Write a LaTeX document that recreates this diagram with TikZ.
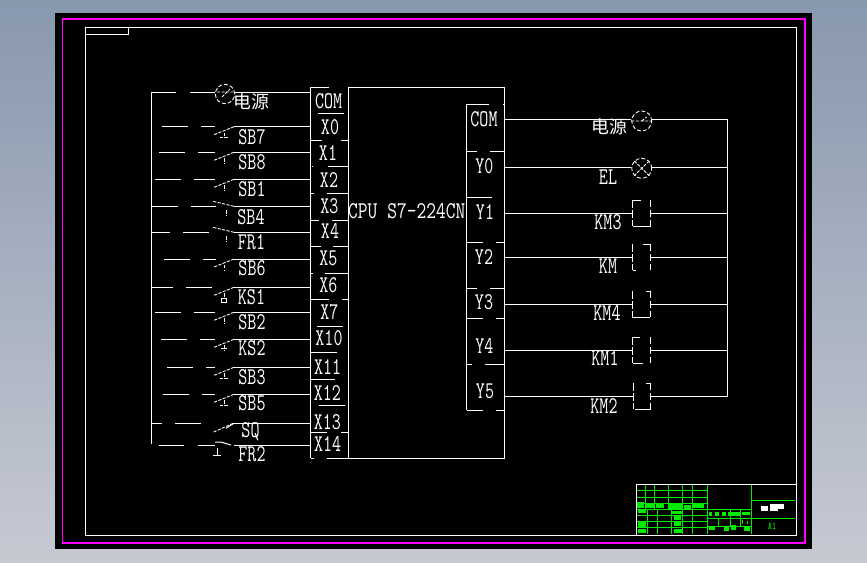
\documentclass[tikz,border=0pt]{standalone}
\usepackage{fontspec}
\usetikzlibrary{calc}
\newfontfamily\cadfont[FakeStretch=0.73]{Latin Modern Mono}
\newfontfamily\cadwide[FakeStretch=0.79]{Latin Modern Mono}
\newfontfamily\cadcjk{Noto Sans CJK SC}
\definecolor{tbgreen}{RGB}{0,235,0}
\definecolor{framepink}{RGB}{255,0,255}
\tikzset{
  wire/.style={draw=white,line width=0.75pt},
  sketchy/.style={draw=white,line width=0.65pt,dash pattern=on 2.4pt off 1pt},
  lampring/.style={draw=white,line width=0.65pt,circle,inner sep=0pt,dash pattern=on 3pt off 1.5pt},
  pinlabel/.style={text=white,inner sep=0pt,font=\cadfont\fontsize{18}{18}\selectfont},
  cpulabel/.style={text=white,inner sep=0pt,font=\cadwide\fontsize{18}{18}\selectfont},
  cjklabel/.style={text=white,inner sep=0pt,font=\cadcjk\fontsize{13.4}{14}\selectfont},
  tbline/.style={draw=tbgreen,line width=0.6pt},
}
\begin{document}
\begin{tikzpicture}[x=0.75pt,y=0.75pt,yscale=-1,xscale=1]
\useasboundingbox (0,0) rectangle (867,562);

%Screen and sheet
\shade[top color={rgb,255:red,136;green,152;blue,174},bottom color={rgb,255:red,198;green,201;blue,210}] (0,0) rectangle (867,562);
\fill[black] (55,13) rectangle (812,549);
\draw[framepink,line width=1pt] (62.5,19) rectangle (805,543);
\draw[wire] (85,27) rectangle (796,535);
\draw[wire] (85,34) -- (128,34) -- (128,27);

%Title block
\begin{scope}[shift={(630,478)},x=0.25pt,y=0.25pt]
\foreach \v in {38,57,75,94,112,130,148} {\draw[tbline] (18,\v) -- (233,\v);}
\foreach \u in {46,72,115,157,187} {\draw[tbline] (\u,18) -- (\u,94);}
\foreach \u in {52,82,125,157,187} {\draw[tbline] (\u,94) -- (\u,168);}
\draw[tbline] (233,18) -- (233,168);
\draw[tbline] (365,18) -- (365,168);
\foreach \v in {94,122,145} {\draw[tbline] (233,\v) -- (365,\v);}
\foreach \u in {265,300,332} {\draw[tbline] (\u,122) -- (\u,145);}
\foreach \u in {300,332} {\draw[tbline] (\u,94) -- (\u,122);}
\draw[tbline] (365,67) -- (495,67);
\draw[tbline] (365,122) -- (495,122);
\foreach \a/\b/\c/\d in {20/42/72/90,48/72/78/90,78/102/78/90,115/155/78/92,162/182/82/92,190/222/78/90,
  25/47/96/106,125/157/98/108,132/154/112/126,25/47/132/146,132/154/132/144,25/47/153/165,132/156/152/164,
  237/247/102/114,255/267/102/114,277/287/102/114,295/330/102/114,337/360/102/112,
  335/340/126/137,350/355/128/137,237/255/144/156,282/298/144/158,302/318/142/155,342/360/144/158}
  {\fill[tbgreen] (\a,\c) rectangle (\b,\d);}
\foreach \a/\b/\c/\d in {393/415/85/98,420/445/78/98,445/462/78/92} {\fill[white] (\a,\c) rectangle (\b,\d);}
\node[text=tbgreen,inner sep=0pt,font=\cadfont\fontsize{8}{8}\selectfont] (sheetsize) at (426,145) {A1};
\end{scope}
\draw[wire] (636,535) -- (636,484) -- (796,484);

%Terminal blocks
\draw[wire] (310.7,87.3) -- (310.7,458.3);
\draw[wire] (348.3,87.3) -- (348.3,458.3);
\draw[wire] (310.7,87.3) -- (329,87.3) (348.3,87.3) -- (504.3,87.3) -- (504.3,458.3) -- (348.3,458.3) -- (327,458.3);
\draw[wire] (310.7,458.3) -- (314,458.3);
\foreach \y/\a/\b/\c/\d in {113.7/318/344/318/344,140.3/311/322/341/348,166/312/313/328/348,193.3/311/314/327/348,220.7/311/319/332/348,
  246.7/311/321/333/348,273.3/311/313/325/348,299.3/311/329/342/348,326/317/343/317/343,352.3/311/337/311/337,379.3/311/335/311/335,
  405.3/319/345/319/345,432.7/311/327/341/348}
  {\draw[wire] (\a,\y) -- (\b,\y) (\c,\y) -- (\d,\y);}
\draw[wire] (466.7,104.3) -- (466.7,410);
\draw[wire] (466.7,104.3) -- (489,104.3) (503,104.3) -- (504,104.3);
\foreach \y/\a/\b/\c/\d in {151/467/477/490/504,197.3/467/492/467/492,242.3/467/483/496/504,288.3/467/477/490/504,
  318.3/467/483/496/504,364.3/467/472/485/504,410/467/483/496/504}
  {\draw[wire] (\a,\y) -- (\b,\y) (\c,\y) -- (\d,\y);}

% Text Node
\foreach \name/\x/\y/\txt in {com/328.7/100.7/COM,xa/330/126.7/X0,xb/328/152.7/X1,xc/329/180/X2,xd/329.3/206/X3,xe/330/230.7/X4,
  xf/328.3/258/X5,xg/328.3/285/X6,xh/329.3/311.7/X7,xi/329/338/X10,xj/327.7/366.7/X11,xk/327.3/393/X12,xl/327.3/421.7/X13,xm/327.7/444/X14,
  yc/484/119/COM,ya/484.3/166/Y0,yb/485/211.7/Y1,yd/484/256.7/Y2,ye/484/301.7/Y3,yf/484.3/345.7/Y4,yg/485/391.7/Y5,
  sba/252/136.7/SB7,sbb/252/162/SB8,sbc/252/189/SB1,sbd/251/216.7/SB4,fra/251.5/241.7/FR1,sbe/252/268/SB6,
  ksa/251.5/296.7/KS1,sbf/252/321.7/SB2,ksb/252/348/KS2,sbg/252/376.7/SB3,sbh/252/403/SB5,sq/250.5/432/SQ,frb/252/454/FR2,
  el/608/176.7/EL,kmc/608/221.7/KM3,kmo/608/265.7/KM,kmd/607/313.3/KM4,kma/605/357.7/KM1,kmb/604/405.7/KM2}
  {\node[pinlabel] (\name) at (\x,\y) {\txt};}
\node[cpulabel] (cpu) at (406.8,211) {CPU S7-224CN};
\node[cjklabel] (srcin) at (251,102) {电源};
\node[cjklabel] (srcout) at (609.7,126.7) {电源};

%Input rows
\draw[wire] (151.5,92.3) -- (151.5,444);
\foreach \name/\y/\a/\b/\c/\d in {rowa/126.7/162/188/201/215,rowb/152.3/159/185/198/215,rowc/179.3/155/181/194/215,rowd/206.3/151.5/178/191/216,
  rowe/232.3/151.5/170/183/209,rowf/259/164/190/203/216,rowg/287.3/151.5/173/186/212,rowh/312.3/155/181/194/215,rowi/339.3/161/187/200/215,
  rowj/367.3/167/193/206/215,rowk/394.3/163/189/202/215,rowl/423.3/151.5/162/175/201,rowm/445/159/184/198/215}
  {\coordinate (\name) at (234,\y);
   \coordinate (\name-pin) at (310.7,\y);
   \draw[wire] (\name) -- (\name-pin);
   \draw[wire] (\a,\y) -- (\b,\y) (\c,\y) -- (\d,\y);}
\foreach \name in {rowa,rowb,rowc,rowf,rowh,rowj,rowk,rowg,rowi}
  {\draw[sketchy] (\name) -- ++(-20,8);
   \draw[sketchy] ($(\name)+(-10,6)$) -- ++(0,5);}
\foreach \name in {rowd,rowe}
  {\draw[sketchy] (\name) -- ++(-21,-5);
   \draw[sketchy] ($(\name)+(-8,4)$) -- ++(0,6);}
\draw[sketchy] ($(rowa)+(-14,11)$) -- ++(8,0);
\draw[sketchy] ($(rowj)+(-14,11)$) -- ++(8,0);
\draw[sketchy] ($(rowk)+(-14,11)$) -- ++(8,0);
\draw[wire] ($(rowg)+(-13,11)$) rectangle ++(5,4);
\draw[wire] ($(rowi)+(-13,9)$) -- ++(6,0);
\draw[sketchy] ($(rowl)+(-1,0)$) -- ++(-20,9);
\draw[wire] (rowl) -- ++(-8,5);
\draw[wire] ($(rowm)+(-19,-3)$) -- ++(6,0) -- ++(10,3);
\draw[wire] ($(rowm)+(-17,3)$) -- ++(0,7) ++(-4,0) -- ++(8,0);

%Input supply
\node[lampring,minimum size=14.5pt] (srca) at (225,94) {};
\draw[sketchy] (217,92) -- (233,92) (222,97) -- (230,89);
\coordinate (srcpin) at (310.7,92.3);
\draw[wire] (srca.east |- srcpin) -- (srcpin);
\draw[wire] (151.5,92.3) -- (176,92.3) (190,92.3) -- (215,92.3);

%Output rows
\coordinate (railtop) at (727.7,119.3);
\coordinate (railbot) at (727.7,396);
\draw[wire] (railtop) -- (railbot);
\node[lampring,minimum size=15pt] (srcb) at (641.7,121) {};
\node[lampring,minimum size=15pt] (lamp) at (641.7,168.3) {};
\draw[sketchy] (srcb.west) -- (srcb.east) (srcb.center) -- ++(5,-4);
\draw[sketchy] (lamp.north west) -- (lamp.south east) (lamp.north east) -- (lamp.south west);
\coordinate (pinc) at (504.3,119.3);
\coordinate (pina) at (504.3,167.3);
\draw[wire] (pinc) -- (srcb.west |- pinc);
\draw[wire] (srcb.east |- pinc) -- (railtop);
\draw[wire] (pina) -- (lamp.west |- pina);
\draw[wire] (lamp.east |- pina) -- (railtop |- pina);
\foreach \name/\y/\ca/\cb/\da/\db/\xl in {coilb/213.3/632.3/640.7/633.3/650.7/632.3,coild/257.3/643.3/650.7/633.3/635.7/632.3,
  coile/304.3/646/650/632.3/650/632.3,coilf/350/632.3/640/633.3/642.7/632.3,coilg/396/646/650.7/635/650.7/633.3}
  {\coordinate (\name-w) at (\xl,\y);
   \coordinate (\name-e) at (650.7,\y);
   \draw[wire] (504.3,\y) -- (\name-w);
   \draw[wire] (\name-e) -- (railtop |- \name-e);
   \draw[wire,dash pattern=on 6pt off 1.5pt] (\xl,\y-13) -- (\xl,\y+13);
   \draw[wire,dash pattern=on 5pt off 2.5pt] (650.7,\y-13) -- (650.7,\y+13);
   \draw[wire] (\ca,\y-13) -- (\cb,\y-13);
   \draw[wire] (\da,\y+13) -- (\db,\y+13);}
\end{tikzpicture}
\end{document}
